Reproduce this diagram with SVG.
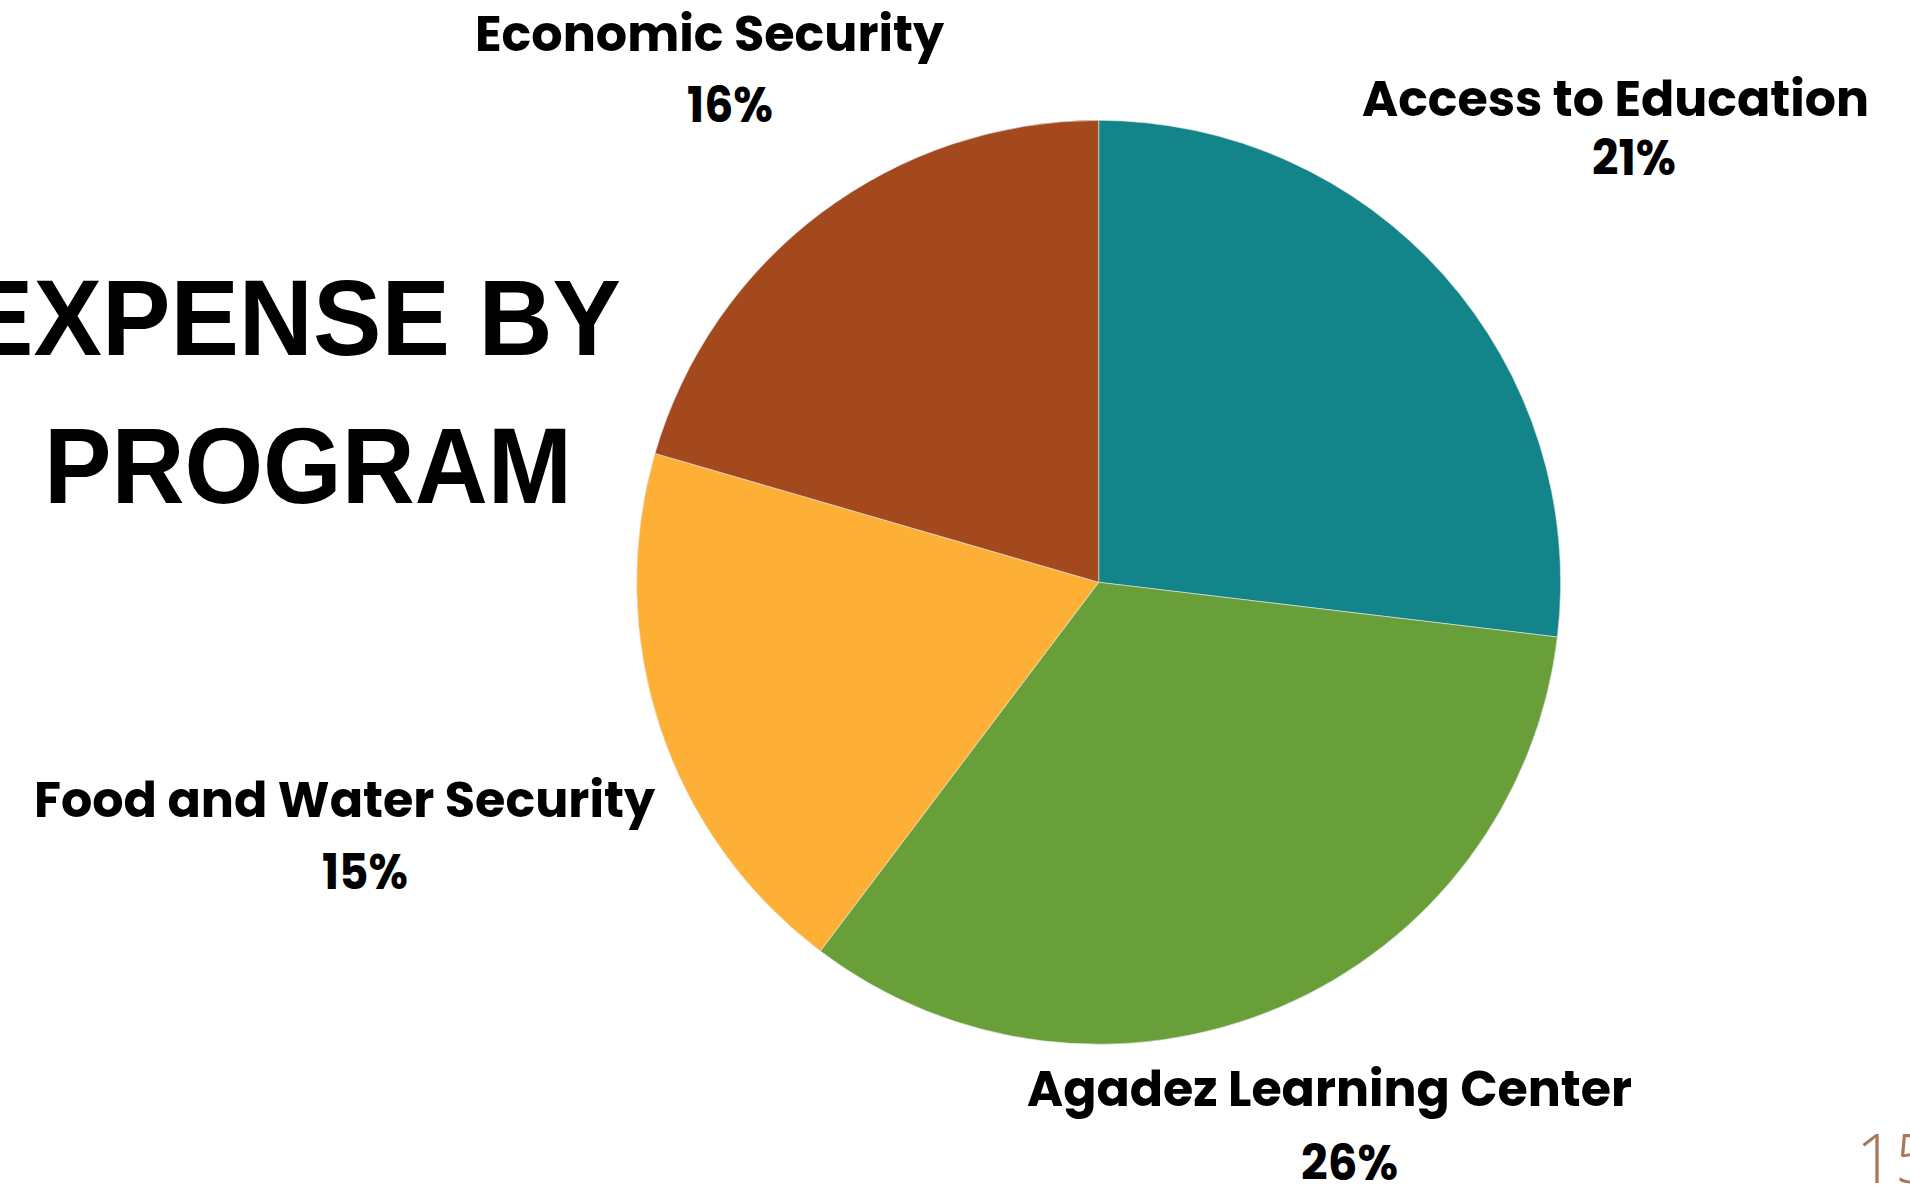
<svg xmlns="http://www.w3.org/2000/svg" width="1910" height="1187" viewBox="0 0 1910 1187">
<style>
.lbl{font-family:"Poppins","Inter","Liberation Sans",sans-serif;font-weight:700;font-size:49px;fill:#000}
.title{font-family:"Liberation Sans","Arial",sans-serif;font-weight:700;font-size:107px;fill:#000}
.slice{stroke:#e8e8e8;stroke-width:0.6}
</style>
<rect width="1910" height="1187" fill="#ffffff"/>
<g id="title">
<text class="title" x="-35" y="355" textLength="656" lengthAdjust="spacingAndGlyphs">EXPENSE BY</text>
<text class="title" x="44" y="503" textLength="528" lengthAdjust="spacingAndGlyphs">PROGRAM</text>
</g>
<g id="slice-access">
<path class="slice" fill="#12848A" d="M1098.7,582.3 L1098.7,120.3 A462,462 0 0 1 1557.4,637.0 Z"/>
</g>
<g id="slice-agadez">
<path class="slice" fill="#689F39" d="M1098.7,582.3 L1557.4,637.0 A462,462 0 0 1 820.3,951.0 Z"/>
</g>
<g id="slice-food">
<path class="slice" fill="#FDAF36" d="M1098.7,582.3 L820.3,951.0 A462,462 0 0 1 655.0,453.4 Z"/>
</g>
<g id="slice-economic">
<path class="slice" fill="#A4481E" d="M1098.7,582.3 L655.0,453.4 A462,462 0 0 1 1098.7,120.3 Z"/>
</g>
<g id="label-economic">
<text class="lbl" x="475" y="51" textLength="469" lengthAdjust="spacingAndGlyphs">Economic Security</text>
<text class="lbl" x="687" y="122" textLength="86" lengthAdjust="spacingAndGlyphs">16%</text>
</g>
<g id="label-access">
<text class="lbl" x="1362" y="116" textLength="507" lengthAdjust="spacingAndGlyphs">Access to Education</text>
<text class="lbl" x="1592" y="175" textLength="84" lengthAdjust="spacingAndGlyphs">21%</text>
</g>
<g id="label-food">
<text class="lbl" x="34" y="817" textLength="621" lengthAdjust="spacingAndGlyphs">Food and Water Security</text>
<text class="lbl" x="322" y="889" textLength="86" lengthAdjust="spacingAndGlyphs">15%</text>
</g>
<g id="label-agadez">
<text class="lbl" x="1027" y="1106" textLength="605" lengthAdjust="spacingAndGlyphs">Agadez Learning Center</text>
<text class="lbl" x="1301" y="1180" textLength="97" lengthAdjust="spacingAndGlyphs">26%</text>
</g>
<g id="page-number">
<text x="1856" y="1183" font-family="'Open Sans', Lato, sans-serif" font-weight="300" font-size="68" fill="#A9785C">15</text>
</g>
</svg>
